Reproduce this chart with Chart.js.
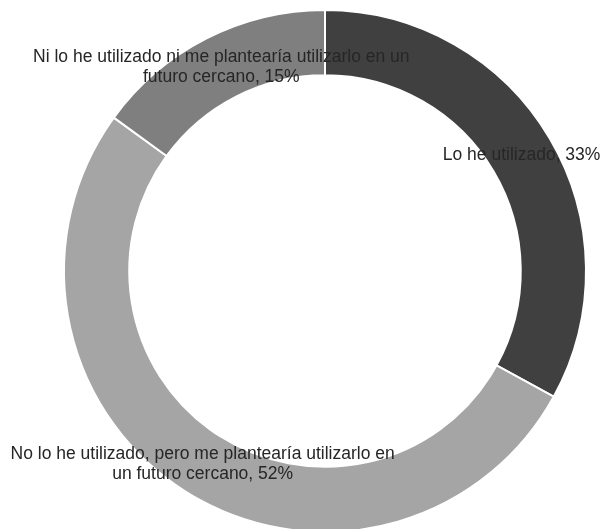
<!DOCTYPE html>
<html>
<head>
<meta charset="utf-8">
<script src="https://cdn.jsdelivr.net/npm/chart.js@4.4.0/dist/chart.umd.min.js"></script>
<style>
    html, body { margin: 0; padding: 0; background: #fff; overflow: hidden; }
    #wrap { width: 603px; height: 542px; }
</style>
</head>
<body>
<div id="wrap"><canvas id="usoChart"></canvas></div>
<script>
const labels = [
    ['Lo he utilizado, 33%'],
    ['No lo he utilizado, pero me plantearía utilizarlo en', 'un futuro cercano, 52%'],
    ['Ni lo he utilizado ni me plantearía utilizarlo en un', 'futuro cercano, 15%']
];
const values = [33, 52, 15];
const colors = ['#404040', '#a5a5a5', '#7f7f7f'];

// draws each slice's label centred on the middle of its ring segment
const sliceLabels = {
    id: 'sliceLabels',
    afterDatasetsDraw(chart) {
        const ctx = chart.ctx;
        const meta = chart.getDatasetMeta(0);
        ctx.save();
        ctx.font = '17.5px "Liberation Sans", Arial, sans-serif';
        ctx.fillStyle = '#262626';
        ctx.textAlign = 'center';
        ctx.textBaseline = 'middle';
        meta.data.forEach((arc, i) => {
            const p = arc.getCenterPoint();
            const lines = chart.data.labels[i];
            const lh = 20;
            const top = p.y - (lines.length - 1) * lh / 2;
            lines.forEach((line, j) => ctx.fillText(line, p.x, top + j * lh));
        });
        ctx.restore();
    }
};

new Chart(document.getElementById('usoChart'), {
    type: 'doughnut',
    data: {
        labels: labels,
        datasets: [{
            data: values,
            backgroundColor: colors,
            borderColor: '#ffffff',
            borderWidth: 2
        }]
    },
    options: {
        responsive: true,
        maintainAspectRatio: false,
        animation: false,
        radius: 261,
        cutout: 195,
        layout: { padding: { top: 10, bottom: 10, left: 47, right: 0 } },
        plugins: {
            legend: { display: false },
            tooltip: { enabled: false }
        }
    },
    plugins: [sliceLabels]
});
</script>
</body>
</html>
